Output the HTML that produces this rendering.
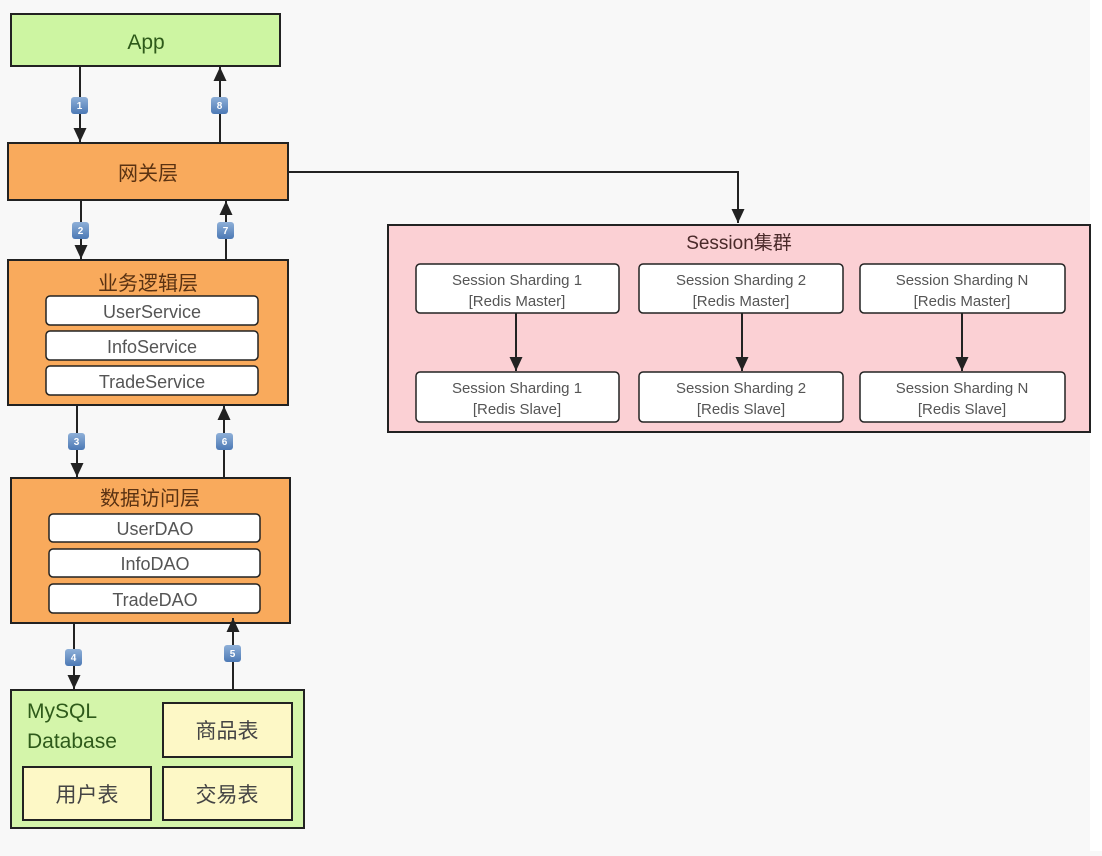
<!DOCTYPE html>
<html><head><meta charset="utf-8"><style>
html,body{margin:0;padding:0;background:#f8f8f8;}
svg text{font-family:"Liberation Sans","Noto Sans CJK SC",sans-serif;}
</style></head><body>
<svg width="1102" height="851" viewBox="0 0 1102 851" xmlns="http://www.w3.org/2000/svg">
<defs>
<marker id="ah" markerWidth="14" markerHeight="14" refX="14" refY="7" orient="auto" markerUnits="userSpaceOnUse">
<path d="M0,0.5 L14,7 L0,13.5 z" fill="#222"/></marker>
<linearGradient id="bg" x1="0" y1="0" x2="0" y2="1"><stop offset="0" stop-color="#8fb0d8"/><stop offset="1" stop-color="#4c79b5"/></linearGradient>
</defs>
<rect width="1102" height="851" fill="#f8f8f8"/>
<rect x="1090" y="0" width="12" height="851" fill="#fff"/>

<!-- App -->
<rect x="11" y="14" width="269" height="52" fill="#cdf5a2" stroke="#222" stroke-width="2"/>
<text x="146" y="49" font-size="21" fill="#2e5a1a" text-anchor="middle">App</text>

<!-- Gateway -->
<rect x="8" y="143" width="280" height="57" fill="#f9aa5c" stroke="#222" stroke-width="2"/>
<text x="148" y="180" font-size="20" fill="#5a3212" text-anchor="middle">网关层</text>

<!-- Business -->
<rect x="8" y="260" width="280" height="145" fill="#f9aa5c" stroke="#222" stroke-width="2"/>
<text x="148" y="290" font-size="20" fill="#5a3212" text-anchor="middle">业务逻辑层</text>
<g font-size="18" fill="#555" text-anchor="middle">
<rect x="46" y="296" width="212" height="29" rx="4" fill="#fff" stroke="#222" stroke-width="1.5"/><text x="152" y="318">UserService</text>
<rect x="46" y="331" width="212" height="29" rx="4" fill="#fff" stroke="#222" stroke-width="1.5"/><text x="152" y="353">InfoService</text>
<rect x="46" y="366" width="212" height="29" rx="4" fill="#fff" stroke="#222" stroke-width="1.5"/><text x="152" y="388">TradeService</text>
</g>

<!-- Data -->
<rect x="11" y="478" width="279" height="145" fill="#f9aa5c" stroke="#222" stroke-width="2"/>
<text x="150" y="505" font-size="20" fill="#5a3212" text-anchor="middle">数据访问层</text>
<g font-size="18" fill="#555" text-anchor="middle">
<rect x="49" y="514" width="211" height="28" rx="4" fill="#fff" stroke="#222" stroke-width="1.5"/><text x="155" y="535">UserDAO</text>
<rect x="49" y="549" width="211" height="28" rx="4" fill="#fff" stroke="#222" stroke-width="1.5"/><text x="155" y="570">InfoDAO</text>
<rect x="49" y="584" width="211" height="29" rx="4" fill="#fff" stroke="#222" stroke-width="1.5"/><text x="155" y="606">TradeDAO</text>
</g>

<!-- MySQL -->
<rect x="11" y="690" width="293" height="138" fill="#d4f5aa" stroke="#222" stroke-width="2"/>
<text x="27" y="718" font-size="21" fill="#2e5a1a">MySQL</text>
<text x="27" y="748" font-size="21" fill="#2e5a1a">Database</text>
<g font-size="21" fill="#444" text-anchor="middle">
<rect x="163" y="703" width="129" height="54" fill="#fdf8c6" stroke="#222" stroke-width="2"/><text x="227" y="738">商品表</text>
<rect x="23" y="767" width="128" height="53" fill="#fdf8c6" stroke="#222" stroke-width="2"/><text x="87" y="802">用户表</text>
<rect x="163" y="767" width="129" height="53" fill="#fdf8c6" stroke="#222" stroke-width="2"/><text x="227" y="802">交易表</text>
</g>

<!-- Session cluster -->
<rect x="388" y="225" width="702" height="207" fill="#fbd0d4" stroke="#222" stroke-width="2"/>
<text x="739" y="249" font-size="19" fill="#4a2a2a" text-anchor="middle">Session集群</text>
<g font-size="15" fill="#555" text-anchor="middle">
<rect x="416" y="264" width="203" height="49" rx="4" fill="#fff" stroke="#222" stroke-width="1.5"/>
<text x="517" y="285">Session Sharding 1</text><text x="517" y="306">[Redis Master]</text>
<rect x="639" y="264" width="204" height="49" rx="4" fill="#fff" stroke="#222" stroke-width="1.5"/>
<text x="741" y="285">Session Sharding 2</text><text x="741" y="306">[Redis Master]</text>
<rect x="860" y="264" width="205" height="49" rx="4" fill="#fff" stroke="#222" stroke-width="1.5"/>
<text x="962" y="285">Session Sharding N</text><text x="962" y="306">[Redis Master]</text>
<rect x="416" y="372" width="203" height="50" rx="4" fill="#fff" stroke="#222" stroke-width="1.5"/>
<text x="517" y="393">Session Sharding 1</text><text x="517" y="414">[Redis Slave]</text>
<rect x="639" y="372" width="204" height="50" rx="4" fill="#fff" stroke="#222" stroke-width="1.5"/>
<text x="741" y="393">Session Sharding 2</text><text x="741" y="414">[Redis Slave]</text>
<rect x="860" y="372" width="205" height="50" rx="4" fill="#fff" stroke="#222" stroke-width="1.5"/>
<text x="962" y="393">Session Sharding N</text><text x="962" y="414">[Redis Slave]</text>
</g>

<!-- arrows -->
<g stroke="#222" stroke-width="2" fill="none" marker-end="url(#ah)">
<line x1="80" y1="66" x2="80" y2="142"/>
<line x1="220" y1="143" x2="220" y2="67"/>
<line x1="81" y1="200" x2="81" y2="259"/>
<line x1="226" y1="260" x2="226" y2="201"/>
<line x1="77" y1="405" x2="77" y2="477"/>
<line x1="224" y1="478" x2="224" y2="406"/>
<line x1="74" y1="623" x2="74" y2="689"/>
<line x1="233" y1="690" x2="233" y2="618"/>
<polyline points="288,172 738,172 738,223"/>
<line x1="516" y1="313" x2="516" y2="371"/>
<line x1="742" y1="313" x2="742" y2="371"/>
<line x1="962" y1="313" x2="962" y2="371"/>
</g>
<!-- badges -->
<g font-size="10" font-weight="bold" fill="#fff" text-anchor="middle">
<rect x="71" y="97" width="17" height="17" rx="3" fill="url(#bg)"/><text x="79.5" y="109">1</text>
<rect x="211" y="97" width="17" height="17" rx="3" fill="url(#bg)"/><text x="219.5" y="109">8</text>
<rect x="72" y="222" width="17" height="17" rx="3" fill="url(#bg)"/><text x="80.5" y="234">2</text>
<rect x="217" y="222" width="17" height="17" rx="3" fill="url(#bg)"/><text x="225.5" y="234">7</text>
<rect x="68" y="433" width="17" height="17" rx="3" fill="url(#bg)"/><text x="76.5" y="445">3</text>
<rect x="216" y="433" width="17" height="17" rx="3" fill="url(#bg)"/><text x="224.5" y="445">6</text>
<rect x="65" y="649" width="17" height="17" rx="3" fill="url(#bg)"/><text x="73.5" y="661">4</text>
<rect x="224" y="645" width="17" height="17" rx="3" fill="url(#bg)"/><text x="232.5" y="657">5</text>
</g>
</svg>
</body></html>
